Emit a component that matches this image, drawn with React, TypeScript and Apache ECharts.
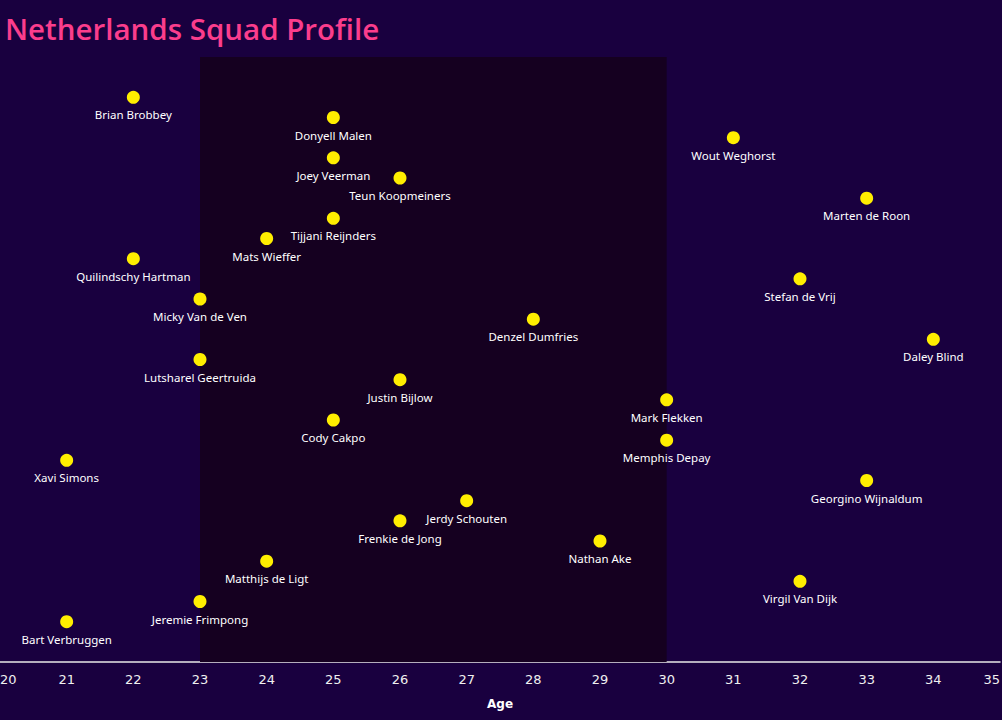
import React, { useEffect, useRef } from "react";
import * as echarts from "echarts";

const players = [
  "Brian Brobbey", "Donyell Malen", "Wout Weghorst", "Joey Veerman", "Teun Koopmeiners",
  "Marten de Roon", "Tijjani Reijnders", "Mats Wieffer", "Quilindschy Hartman", "Stefan de Vrij",
  "Micky Van de Ven", "Denzel Dumfries", "Daley Blind", "Lutsharel Geertruida", "Justin Bijlow",
  "Mark Flekken", "Cody Cakpo", "Memphis Depay", "Xavi Simons", "Georgino Wijnaldum",
  "Jerdy Schouten", "Frenkie de Jong", "Nathan Ake", "Matthijs de Ligt", "Virgil Van Dijk",
  "Jeremie Frimpong", "Bart Verbruggen",
];
const ages = [22, 25, 31, 25, 26, 33, 25, 24, 22, 32, 23, 28, 34, 23, 26, 30, 25, 30, 21, 33, 27, 26, 29, 24, 32, 23, 21];
const ranks = [26, 25, 24, 23, 22, 21, 20, 19, 18, 17, 16, 15, 14, 13, 12, 11, 10, 9, 8, 7, 6, 5, 4, 3, 2, 1, 0];
const primeRange = [23, 30];

export default function App() {
  const ref = useRef<HTMLDivElement>(null);
  useEffect(() => {
    const chart = echarts.init(ref.current!, null, { renderer: "svg" });
    const data = players.map((n, i) => [ages[i], ranks[i], n]);
    chart.setOption({
      animation: false,
      backgroundColor: "#19003f",
      title: {
        text: "Netherlands Squad Profile",
        left: 0,
        top: 8,
        textStyle: { color: "#fb3d8c", fontSize: 29.5, fontWeight: 600, fontFamily: "Open Sans" },
      },
      grid: { left: 0, right: 2, top: 57, bottom: 58, outerBoundsMode: "none" },
      xAxis: {
        type: "value",
        min: 20,
        max: 35,
        interval: 1,
        name: "Age",
        nameLocation: "middle",
        nameGap: 36,
        nameTextStyle: { color: "#ffffff", fontWeight: "bold", fontSize: 12, fontFamily: "DejaVu Sans" },
        axisLine: { show: true, onZero: false, lineStyle: { color: "#e8e8e8", width: 1.5 } },
        axisTick: { show: false },
        splitLine: { show: false },
        axisLabel: {
          color: "#f0f0f0",
          fontSize: 13,
          fontFamily: "DejaVu Sans",
          margin: 11,
          alignMinLabel: "left",
          alignMaxLabel: "right",
        },
      },
      yAxis: { type: "value", min: -2, max: 28, show: false, splitLine: { show: false } },
      series: [
        {
          type: "scatter",
          data,
          symbolSize: 13,
          itemStyle: { color: "#ffee00", opacity: 1 },
          label: {
            show: true,
            position: "bottom",
            distance: 5,
            formatter: (p: any) => p.data[2],
            color: "#ffffff",
            fontSize: 11.5,
            fontFamily: "Noto Sans",
          },
          markArea: {
            silent: true,
            itemStyle: { color: "#150020", opacity: 1 },
            data: [[{ xAxis: primeRange[0], yAxis: -2 }, { xAxis: primeRange[1], yAxis: 28 }]],
          },
          z: 3,
        },
      ],
    });
    return () => chart.dispose();
  }, []);
  return <div ref={ref} style={{ width: 1002, height: 720, position: "absolute", left: 0, top: 0 }} />;
}
